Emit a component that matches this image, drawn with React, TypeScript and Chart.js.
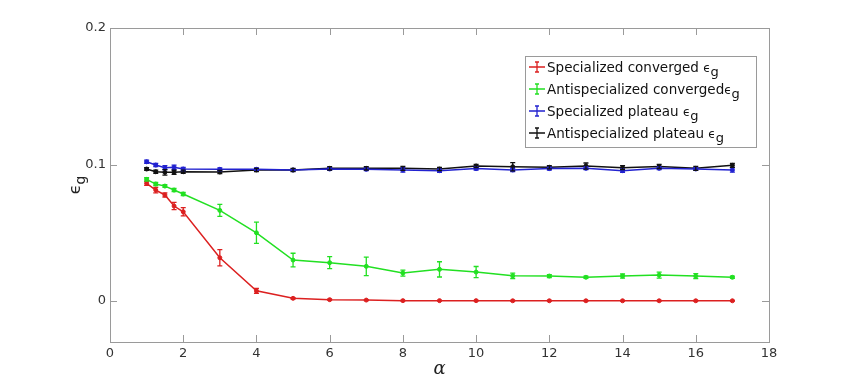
import React, { useEffect, useRef } from "react";
import { Chart, registerables } from "chart.js";

Chart.register(...registerables);

const alpha = [1, 1.25, 1.5, 1.75, 2, 3, 4, 5, 6, 7, 8, 9, 10, 11, 12, 13, 14, 15, 16, 17];

const specConv = [0.0862, 0.0813, 0.0777, 0.0696, 0.0654, 0.0317, 0.0075, 0.002, 0.001, 0.0007, 0.0003, 0.0003, 0.0003, 0.0002, 0.0002, 0.0002, 0.0002, 0.0002, 0.0002, 0.0002];
const specConvErr = [0.0015, 0.002, 0.0015, 0.0027, 0.003, 0.006, 0.0018, 0.0005, 0.0004, 0.0003, 0.0002, 0.0002, 0.0002, 0.0002, 0.0002, 0.0002, 0.0002, 0.0002, 0.0002, 0.0002];

const antiConv = [0.0891, 0.0857, 0.0842, 0.0813, 0.0784, 0.0664, 0.050, 0.030, 0.0281, 0.0254, 0.0205, 0.0232, 0.0212, 0.0185, 0.0183, 0.0174, 0.0183, 0.019, 0.0183, 0.0174];
const antiConvErr = [0.0012, 0.0012, 0.001, 0.0012, 0.0012, 0.0044, 0.0078, 0.005, 0.0044, 0.0068, 0.0022, 0.0056, 0.0041, 0.002, 0.0011, 0.0008, 0.0015, 0.0022, 0.0018, 0.0008];

const specPlat = [0.102, 0.0996, 0.0977, 0.098, 0.0967, 0.0965, 0.0965, 0.096, 0.0967, 0.0965, 0.096, 0.0955, 0.097, 0.096, 0.097, 0.0972, 0.0955, 0.0972, 0.0967, 0.096];
const specPlatErr = [0.0012, 0.0012, 0.0015, 0.0015, 0.0012, 0.001, 0.001, 0.001, 0.001, 0.001, 0.0015, 0.0012, 0.001, 0.0012, 0.001, 0.001, 0.0012, 0.001, 0.001, 0.0015];

const antiPlat = [0.0967, 0.0947, 0.0943, 0.0943, 0.0947, 0.0945, 0.096, 0.096, 0.0972, 0.0972, 0.0972, 0.0967, 0.0989, 0.0984, 0.098, 0.0989, 0.0977, 0.0986, 0.0972, 0.0994];
const antiPlatErr = [0.001, 0.0012, 0.002, 0.0015, 0.0012, 0.0012, 0.0012, 0.0012, 0.0012, 0.0012, 0.0015, 0.0012, 0.0012, 0.003, 0.0012, 0.0022, 0.0015, 0.0015, 0.0015, 0.0015];

const seriesNames = [
  "Specialized converged ",
  "Antispecialized converged",
  "Specialized plateau ",
  "Antispecialized plateau ",
];
const seriesColors = ["#dc2020", "#22e022", "#2222d0", "#111111"];

const xTicks = [0, 2, 4, 6, 8, 10, 12, 14, 16, 18];
const yTicks = [0, 0.1, 0.2];
const yTickLabels = ["0", "0.1", "0.2"];

const errs = [specConvErr, antiConvErr, specPlatErr, antiPlatErr];
const vals = [specConv, antiConv, specPlat, antiPlat];

const AXIS_COLOR = "#9a9a9a";
const TEXT_COLOR = "#333333";

const customPlugin = {
  id: "matlabStyle",
  beforeDatasetsDraw(chart: any) {
    const { ctx, chartArea, scales } = chart;
    const x = scales.x;
    const y = scales.y;
    ctx.save();
    ctx.strokeStyle = AXIS_COLOR;
    ctx.lineWidth = 1;
    // box
    ctx.strokeRect(chartArea.left + 0.5, chartArea.top + 0.5, chartArea.right - chartArea.left, chartArea.bottom - chartArea.top);
    const tl = 7;
    ctx.beginPath();
    xTicks.forEach((t) => {
      const px = Math.round(x.getPixelForValue(t)) + 0.5;
      ctx.moveTo(px, chartArea.bottom);
      ctx.lineTo(px, chartArea.bottom - tl);
      ctx.moveTo(px, chartArea.top);
      ctx.lineTo(px, chartArea.top + tl);
    });
    yTicks.forEach((t) => {
      const py = Math.round(y.getPixelForValue(t)) + 0.5;
      ctx.moveTo(chartArea.left, py);
      ctx.lineTo(chartArea.left + tl, py);
      ctx.moveTo(chartArea.right, py);
      ctx.lineTo(chartArea.right - tl, py);
    });
    ctx.stroke();
    // tick labels
    ctx.fillStyle = TEXT_COLOR;
    ctx.font = '13px "DejaVu Sans"';
    ctx.textAlign = "center";
    ctx.textBaseline = "top";
    xTicks.forEach((t) => {
      ctx.fillText(String(t), x.getPixelForValue(t), chartArea.bottom + 5);
    });
    ctx.textAlign = "right";
    ctx.textBaseline = "middle";
    yTicks.forEach((t, i) => {
      ctx.fillText(yTickLabels[i], chartArea.left - 4, y.getPixelForValue(t));
    });
    // x label
    ctx.font = 'italic 18px "DejaVu Serif"';
    ctx.textAlign = "center";
    ctx.textBaseline = "alphabetic";
    ctx.fillStyle = "#222";
    ctx.fillText("α", (chartArea.left + chartArea.right) / 2, 374);
    // y label rotated
    ctx.save();
    ctx.translate(80, (chartArea.top + chartArea.bottom) / 2);
    ctx.rotate(-Math.PI / 2);
    ctx.textAlign = "left";
    ctx.font = '16px "DejaVu Sans"';
    const w1 = ctx.measureText("ϵ").width;
    ctx.font = '14px "DejaVu Sans"';
    const w2 = ctx.measureText("g").width;
    const start = -(w1 + w2) / 2;
    ctx.font = '16px "DejaVu Sans"';
    ctx.fillText("ϵ", start, 0);
    ctx.font = '14px "DejaVu Sans"';
    ctx.fillText("g", start + w1, 5);
    ctx.restore();
    ctx.restore();
  },
  afterDatasetsDraw(chart: any) {
    const { ctx, scales } = chart;
    const x = scales.x;
    const y = scales.y;
    ctx.save();
    ctx.lineWidth = 1.3;
    vals.forEach((arr, si) => {
      ctx.strokeStyle = seriesColors[si];
      ctx.beginPath();
      arr.forEach((v, i) => {
        const px = x.getPixelForValue(alpha[i]);
        const y1 = y.getPixelForValue(v - errs[si][i]);
        const y2 = y.getPixelForValue(v + errs[si][i]);
        const cap = 2.5;
        ctx.moveTo(px, y1);
        ctx.lineTo(px, y2);
        ctx.moveTo(px - cap, y1);
        ctx.lineTo(px + cap, y1);
        ctx.moveTo(px - cap, y2);
        ctx.lineTo(px + cap, y2);
      });
      ctx.stroke();
    });
    // legend
    const lx = 525, ly = 56, lw = 231, lh = 91;
    ctx.fillStyle = "#ffffff";
    ctx.fillRect(lx, ly, lw, lh);
    ctx.strokeStyle = AXIS_COLOR;
    ctx.lineWidth = 1;
    ctx.strokeRect(lx + 0.5, ly + 0.5, lw, lh);
    const rows = [67, 89, 111, 133];
    rows.forEach((ry, i) => {
      ctx.strokeStyle = seriesColors[i];
      ctx.lineWidth = 1.3;
      ctx.beginPath();
      ctx.moveTo(529, ry);
      ctx.lineTo(545, ry);
      ctx.moveTo(537, ry - 5);
      ctx.lineTo(537, ry + 5);
      ctx.moveTo(535, ry - 5);
      ctx.lineTo(539, ry - 5);
      ctx.moveTo(535, ry + 5);
      ctx.lineTo(539, ry + 5);
      ctx.stroke();
      ctx.fillStyle = "#111";
      ctx.textAlign = "left";
      ctx.textBaseline = "alphabetic";
      ctx.font = '13.5px "DejaVu Sans"';
      const base = ry + 5;
      ctx.fillText(seriesNames[i], 547, base);
      const w = ctx.measureText(seriesNames[i]).width;
      ctx.font = '12px "DejaVu Sans"';
      ctx.fillText("ϵ", 547 + w, base);
      const we = ctx.measureText("ϵ").width;
      ctx.font = '13px "DejaVu Sans"';
      ctx.fillText("g", 547 + w + we, base + 4);
    });
    ctx.restore();
  },
};

export default function App() {
  const ref = useRef<HTMLCanvasElement>(null);
  useEffect(() => {
    document.body.style.margin = "0";
    const mk = (d: number[]) => d.map((v, i) => ({ x: alpha[i], y: v }));
    const chart = new Chart(ref.current as HTMLCanvasElement, {
      type: "line",
      data: {
        datasets: vals.map((d, i) => ({
          label: seriesNames[i],
          data: mk(d),
          borderColor: seriesColors[i],
          backgroundColor: seriesColors[i],
          borderWidth: 1.5,
          pointRadius: 2,
          pointBorderWidth: 1,
          pointBackgroundColor: seriesColors[i],
          tension: 0,
        })),
      },
      plugins: [customPlugin],
      options: {
        animation: false,
        responsive: false,
        events: [],
        layout: { padding: { left: 0, top: 28, right: 81, bottom: 0 } },
        plugins: { legend: { display: false }, tooltip: { enabled: false } },
        scales: {
          x: {
            type: "linear",
            min: 0,
            max: 18,
            grid: { display: false, drawTicks: false },
            border: { display: false },
            ticks: { display: false, stepSize: 2 },
            afterFit: (s: any) => { s.height = 42; },
          },
          y: {
            type: "linear",
            min: -0.03,
            max: 0.2,
            grid: { display: false, drawTicks: false },
            border: { display: false },
            ticks: { display: false },
            afterFit: (s: any) => { s.width = 110; },
          },
        },
      },
    });
    return () => chart.destroy();
  }, []);
  return (
    <div style={{ width: 850, height: 384 }}>
      <canvas ref={ref} width={850} height={384} style={{ width: 850, height: 384 }} />
    </div>
  );
}
